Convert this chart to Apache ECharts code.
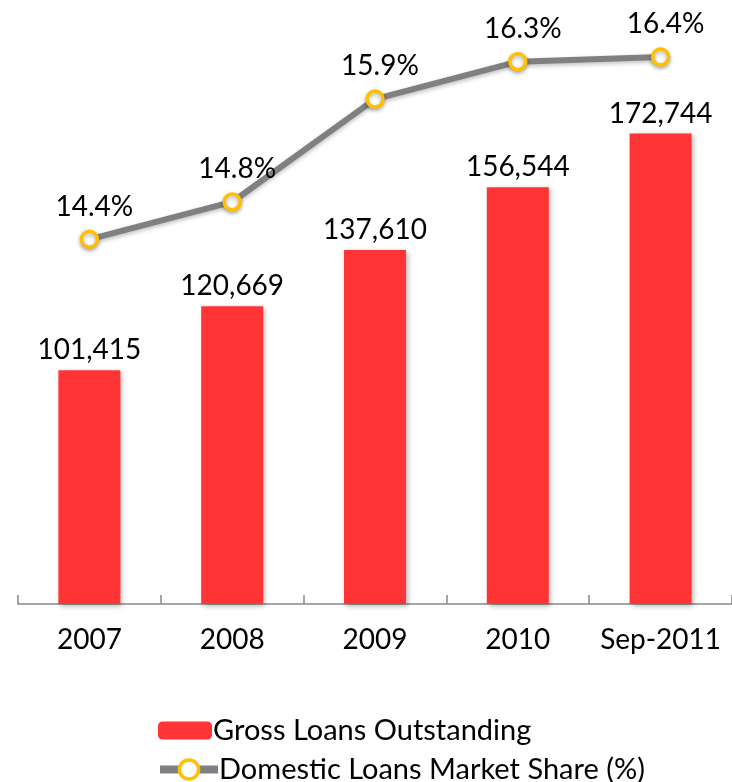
<!DOCTYPE html>
<html>
<head>
<meta charset="utf-8">
<script src="https://cdn.jsdelivr.net/npm/echarts@6/dist/echarts.min.js"></script>
<style>
  html, body { margin: 0; padding: 0; background: #fff; }
  #chart { width: 732px; height: 782px; }
</style>
</head>
<body>
<div id="chart"></div>
<script>
// values
const categories = ['2007', '2008', '2009', '2010', 'Sep-2011']
const grossLoans = [101415, 120669, 137610, 156544, 172744]
const marketShare = [14.4, 14.8, 15.9, 16.3, 16.35]

const font = 'Lato'
const chart = echarts.init(document.getElementById('chart'))

const legendText = { fontSize: 29, color: '#000', fontFamily: font, padding: [0, 0, 0, -4] }

const option = {
  animation: false,
  textStyle: { fontFamily: font },
  grid: {
    left: 18,
    right: -6,
    top: 43,
    bottom: 178
  },
  legend: [
    {
      left: 158,
      top: 716,
      padding: 0,
      itemWidth: 54,
      itemHeight: 18,
      textStyle: legendText,
      data: ['Gross Loans Outstanding']
    },
    {
      left: 156,
      top: 755,
      padding: 0,
      itemWidth: 58,
      itemHeight: 24,
      textStyle: legendText,
      data: [{
        name: 'Domestic Loans Market Share (%)',
        lineStyle: { color: '#808080', width: 8 },
        itemStyle: { color: '#fff', borderColor: '#FFC000', borderWidth: 3.5 }
      }]
    }
  ],
  xAxis: {
    type: 'category',
    data: categories,
    axisLine: { lineStyle: { color: '#888', width: 1.5 } },
    axisTick: { show: true, inside: true, length: 9, lineStyle: { color: '#888', width: 1.5 } },
    axisLabel: { color: '#000', fontSize: 28, margin: 22, interval: 0, fontFamily: font }
  },
  yAxis: [
    {
      type: 'value',
      min: 31000,
      max: 200000,
      show: false
    },
    {
      type: 'value',
      min: 10.5,
      max: 16.5,
      show: false
    }
  ],
  series: [
    {
      name: 'Gross Loans Outstanding',
      type: 'bar',
      barWidth: 62,
      data: grossLoans,
      itemStyle: {
        color: '#FF3535',
        shadowBlur: 5,
        shadowColor: 'rgba(0,0,0,0.3)',
        shadowOffsetX: 2,
        shadowOffsetY: 2
      },
      label: {
        show: true,
        position: 'top',
        distance: 6,
        fontSize: 28,
        color: '#000',
        fontFamily: font,
        formatter: p => p.value.toLocaleString('en-US')
      }
    },
    {
      name: 'Domestic Loans Market Share (%)',
      type: 'line',
      yAxisIndex: 1,
      data: marketShare,
      symbol: 'circle',
      symbolSize: 16,
      lineStyle: {
        color: '#808080',
        width: 6,
        shadowBlur: 4,
        shadowColor: 'rgba(0,0,0,0.25)',
        shadowOffsetY: 2
      },
      itemStyle: {
        color: '#fff',
        borderColor: '#FFC000',
        borderWidth: 3.5,
        shadowBlur: 4,
        shadowColor: 'rgba(0,0,0,0.3)',
        shadowOffsetY: 2
      },
      label: {
        show: true,
        position: 'top',
        distance: 9,
        offset: [5, 0],
        fontSize: 28,
        color: '#000',
        fontFamily: font,
        formatter: p => p.value.toFixed(1) + '%'
      }
    }
  ]
}
chart.setOption(option)
</script>
</body>
</html>
